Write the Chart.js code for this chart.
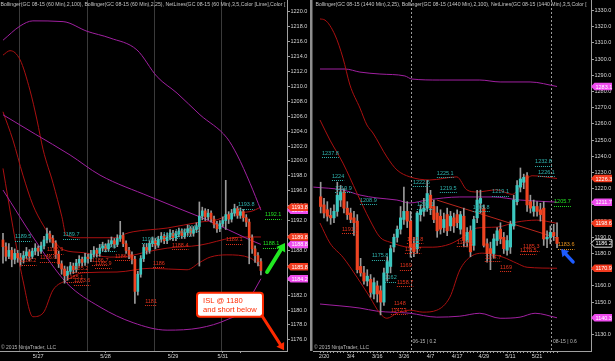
<!DOCTYPE html>
<html>
<head>
<meta charset="utf-8">
<script src="https://cdn.jsdelivr.net/npm/chart.js@4.4.1/dist/chart.umd.min.js"></script>
<style>
  html, body { margin:0; padding:0; background:#000; width:615px; height:361px; overflow:hidden; }
  canvas { position:absolute; top:0; display:block; }
  #cl { left:0; }
  #cr { left:310px; }
</style>
</head>
<body>
<canvas id="cl" width="310" height="361"></canvas>
<canvas id="cr" width="305" height="361"></canvas>
<script>
const FONT = '"Liberation Sans", Arial, sans-serif';
Chart.defaults.font.family = FONT;

/* ================= LEFT PANEL : GC 08-15 (60 Min) ================= */
const lTickIdx    = [12, 35, 58, 75, 81];
const lTickLabels = ['5/27', '5/28', '5/29', '5/31', ''];
const lSessionBreaks = [5.5, 28.5, 51.5, 74.5];
const lYTicks = [1176,1178,1180,1182,1184,1186,1188,1190,1192,1194,1196,1198,1200,1202,1204,1206,1208,1210,1212,1214,1216,1218,1220];

const lOpen = [1189.4,1188.5,1187.2,1188.0,1186.8,1187.6,1187.0,1186.8,1187.3,1187.8,
1187.2,1187.9,1188.3,1187.9,1188.6,1189.4,1190.2,1189.6,1189.0,1187.5,
1186.2,1185.5,1184.6,1185.2,1185.9,1185.4,1186.3,1186.8,1186.4,1187.1,
1186.9,1187.5,1188.0,1187.6,1188.3,1188.6,1188.2,1188.9,1189.3,1188.8,
1189.6,1190.0,1188.9,1188.0,1187.4,1186.8,1182.5,1184.8,1186.9,1188.4,
1188.0,1188.9,1189.3,1188.7,1189.5,1189.9,1189.3,1189.8,1190.3,1189.7,
1190.2,1190.6,1190.0,1190.4,1190.9,1190.3,1190.8,1191.2,1192.6,1193.3,
1192.5,1193.0,1192.2,1191.5,1190.9,1191.6,1192.0,1192.8,1192.2,1193.0,
1193.6,1192.7,1193.2,1192.4,1191.8,1189.7,1188.2,1187.3,1186.5];
const lHigh = [1190.3,1189.0,1188.9,1188.4,1188.2,1188.0,1187.6,1187.9,1188.4,1188.1,
1188.3,1188.9,1188.6,1189.1,1189.9,1191.0,1190.6,1190.0,1189.3,1187.9,
1186.6,1185.9,1185.8,1186.4,1186.3,1186.8,1187.3,1187.1,1187.6,1187.5,
1188.0,1188.5,1188.3,1188.8,1189.1,1188.9,1189.4,1189.8,1189.6,1190.1,
1191.9,1190.4,1189.3,1188.4,1187.8,1187.2,1185.2,1187.3,1188.8,1188.9,
1189.3,1189.8,1189.6,1189.9,1190.4,1190.2,1190.3,1190.8,1190.7,1190.6,
1191.0,1190.9,1190.9,1191.4,1191.2,1191.2,1191.7,1194.5,1193.8,1193.6,
1193.5,1193.3,1192.6,1191.9,1192.0,1192.5,1197.4,1193.2,1193.5,1194.2,
1193.9,1193.7,1193.5,1192.8,1192.2,1190.1,1188.6,1187.7,1186.9];
const lLow = [1186.3,1186.6,1186.9,1185.8,1186.2,1186.4,1185.9,1186.3,1186.9,1186.6,
1186.9,1187.4,1187.3,1187.6,1188.2,1189.0,1189.1,1188.4,1186.9,1185.7,
1184.8,1183.6,1184.0,1184.8,1184.9,1185.0,1185.9,1185.9,1186.0,1186.3,
1186.5,1187.1,1187.1,1187.2,1187.9,1187.8,1187.9,1188.5,1188.3,1188.5,
1189.2,1188.5,1187.6,1186.9,1186.2,1180.9,1182.0,1184.4,1186.5,1187.5,
1187.6,1188.5,1188.2,1188.4,1189.1,1188.9,1188.9,1189.4,1189.3,1189.3,
1189.8,1189.6,1189.6,1190.0,1189.9,1189.9,1190.4,1185.9,1192.1,1192.0,
1192.1,1191.8,1191.0,1190.4,1190.5,1191.2,1190.8,1191.6,1191.8,1192.6,
1192.3,1192.3,1191.9,1191.2,1186.2,1187.6,1186.4,1185.9,1184.7];
const lClose = [1188.5,1187.2,1188.0,1186.8,1187.6,1187.0,1186.8,1187.3,1187.8,1187.2,
1187.9,1188.3,1187.9,1188.6,1189.4,1190.2,1189.6,1189.0,1187.5,1186.2,
1185.5,1184.6,1185.2,1185.9,1185.4,1186.3,1186.8,1186.4,1187.1,1186.9,
1187.5,1188.0,1187.6,1188.3,1188.6,1188.2,1188.9,1189.3,1188.8,1189.6,
1190.0,1188.9,1188.0,1187.4,1186.8,1182.5,1184.8,1186.9,1188.4,1188.0,
1188.9,1189.3,1188.7,1189.5,1189.9,1189.3,1189.8,1190.3,1189.7,1190.2,
1190.6,1190.0,1190.4,1190.9,1190.3,1190.8,1191.2,1192.6,1193.3,1192.5,
1193.0,1192.2,1191.5,1190.9,1191.6,1192.0,1192.8,1192.2,1193.0,1193.6,
1192.7,1193.2,1192.4,1191.8,1189.7,1188.2,1187.3,1186.5,1185.3];

// Bollinger (2,100) - purple
const lB100UpIdx  = [0,5.8,10.2,20.5,28.7,36.5,45.7,52.6,59.4,67.2,76.4,79.9,84.3,88];
const lB100Up     = [1216.2,1218.1,1218.8,1218.7,1217.4,1216.5,1214.9,1211.3,1209.1,1206.2,1203.1,1200.8,1197.0,1193.4];
const lB100MidIdx = [0,11,22.9,33.1,50.2,61.4,69.6,84.3,88];
const lB100Mid    = [1206.2,1203.6,1200.8,1198.1,1195.2,1193.4,1192.1,1189.4,1188.8];
const lB100LowIdx = [0,10.9,21.8,33.1,44.4,56,67.2,76.4,81.9,85.3,88];
const lB100Low    = [1196.1,1189.4,1183.6,1180.4,1178.3,1177.3,1177.6,1178.7,1180.0,1182.3,1184.2];
// Bollinger (2,25) - dark red
const lB25UpIdx  = [0,2.4,5.8,9.2,11.6,13.7,17.1,20.1,21.5,26.3,38.9,41.6,44.4,56,67.2,73,78.5,84.3,88];
const lB25Up     = [1214.2,1214.8,1213.6,1209.5,1205.5,1201.5,1197.0,1192.5,1190.1,1189.7,1189.7,1190.2,1190.5,1191.0,1191.8,1192.1,1193.0,1193.2,1193.8];
const lB25MidIdx = [0,3.4,6.8,10.2,13.7,17.1,20.5,27.3,36.5,42.3,49.1,56,67.2,78.5,84.3,88];
const lB25Mid    = [1206.6,1202.8,1198.1,1194.1,1191.4,1189.4,1188.1,1187.7,1187.1,1187.2,1187.8,1188.3,1188.7,1189.7,1189.8,1189.8];
const lB25LowIdx = [0,3.4,6.8,10.2,13.7,17.1,21.8,27.3,38.9,50.2,62.8,67.2,70.7,76.4,84.3,88];
const lB25Low    = [1199.0,1191.1,1184.0,1179.1,1179.6,1182.7,1184.0,1185.0,1185.1,1185.6,1185.4,1186.4,1187.1,1187.4,1187.0,1185.8];

// NetLines swing labels
const lHiText = ['1189.5','1189.7','1189.6','1190.3','1190.4','1190.6','1192','1193.8'];
const lHiIdx  = [4.1,20.5,33.1,47.4,54.6,58.7,63.1,80.2];
const lHiPos  = [1189.8,1190.1,1188.5,1189.5,1190.2,1190.5,1191.1,1194.1];
const lLoText = ['1188.2','1186.6','1186.9','1185.1','1185.2','1183.6','1186.7','1185.9','1186.4','1181','1186','1188.4','1189.1'];
const lLoIdx  = [5.8,12.6,15,21.8,23.5,24.2,30.4,31.4,38.2,48.5,51.2,57.7,76.1];
const lLoPos  = [1186.6,1187.0,1188.1,1184.3,1185.6,1183.9,1186.6,1186.2,1187.2,1181.2,1186.3,1188.7,1189.4];
const lLimeText = ['1192.1','1188.1'];
const lLimeIdx  = [89.4,88.7];
const lLimePos  = [1192.8,1188.9];

const lTagRed     = [1193.8, 1189.8, 1185.8];
const lTagMagenta = [1193.4, 1188.8, 1184.2];
const lNoteLines  = ['ISL @ 1180', 'and short below'];

/* ================= RIGHT PANEL : GC 08-15 (1440 Min) ================= */
const rDates = ['2/19','2/20','2/23','2/24','2/25','2/26','2/27','3/2','3/3','3/4','3/5','3/6','3/9','3/10','3/11','3/12','3/13','3/16','3/17','3/18','3/19','3/20','3/23','3/24','3/25','3/26','3/27','3/30','3/31','4/1','4/2','4/3','4/6','4/7','4/8','4/9','4/10','4/13','4/14','4/15','4/16','4/17','4/20','4/21','4/22','4/23','4/24','4/27','4/28','4/29','4/30','5/1','5/4','5/5','5/6','5/7','5/8','5/11','5/12','5/13','5/14','5/15','5/18','5/19','5/20','5/21','5/22','5/26','5/27','5/28','5/29','6/1'];
const rLabelEvery = 8;
const rYTicks = [1130,1140,1150,1160,1170,1180,1190,1200,1210,1220,1230,1240,1250,1260,1270,1280,1290,1300,1310,1320,1330];

const rOpen = [1215,1210,1207,1203.5,1202,1206,1213,1218,1208,1205,
1202,1200,1172,1168,1163,1164,1155,1160,1157,1150,
1168,1172,1184,1190,1195,1201,1206,1200,1186,1183,
1204,1206,1208,1216,1209,1205,1203,1196,1204,1197,
1202,1204,1195,1203,1187,1194,1185,1202,1211,1208,
1186,1183,1180,1188,1195,1190,1182,1184,1197,1212,
1221,1224,1228,1212,1206,1209,1207,1208,1189,1190,
1193,1190];
const rHigh = [1224,1214,1212,1208,1210,1224,1222,1220,1212,1208,
1206,1204,1177,1172,1170,1167,1165,1163,1160,1171,
1178,1185,1192,1197,1209,1221,1212,1206,1190,1206,
1210,1214,1225.1,1219,1213,1209,1207,1205,1208,1206,
1205,1207,1206,1208,1196,1197,1203,1219,1219.1,1210,
1189,1187,1192,1196,1199,1193,1191,1200,1216,1225,
1232.8,1229,1230,1216,1213,1212,1211,1212,1194,1197,
1198,1199];
const rLow = [1205,1202,1200,1198,1199,1203,1209,1205,1201,1199,
1191.1,1168,1166,1161,1160,1153,1152,1150,1142.1,1148,
1163,1168,1181,1187,1192,1198,1196,1177.7,1178,1180,
1200,1203,1206,1204,1199,1190,1192,1193,1191,1194,
1193,1196,1192,1184.1,1184,1178,1182,1199,1205,1184,
1174.7,1170,1177,1185,1186,1180,1179,1180,1195,1210,
1218,1220,1206,1205,1203,1203,1200,1185,1183.6,1186,
1188,1183.6];
const rClose = [1209,1205,1203,1202,1206,1216,1218,1208,1204,1201,
1199,1170,1168,1163,1166,1156,1162,1155,1150,1168,
1175,1183,1190,1195,1202,1206,1200,1184,1181,1205,
1207,1208,1217,1208,1201,1194,1195,1201,1194,1203,
1197,1199,1204,1188,1193,1181,1201,1213,1214,1185,
1180,1180,1189,1194,1189,1183,1188,1198,1213,1222,
1226,1227,1210,1208,1209,1206,1204,1189,1190,1193,
1191,1186.2];

// Bollinger (2,25) - dark red
const rB25UpIdx  = [-1.2,0.3,3.3,5.7,7.8,10.8,12.9,14.7,18.9,21.9,25.8,31.8,39.9,42.9,45.9,51.9,56.5,59.5,62.5,70];
const rB25Up     = [1324.8,1324.1,1314.9,1300.7,1284.0,1269.8,1259.3,1254.4,1239.6,1231.6,1227.3,1225.4,1227.3,1219.3,1218.0,1219.3,1216.5,1222.5,1228.0,1226.3];
const rB25MidIdx = [-1.2,1.8,5.7,9.9,13.8,16.8,19.8,25.8,32.7,37.8,41.7,45.9,51.9,57.9,63.9,70];
const rB25Mid    = [1262.4,1250.0,1235.8,1217.3,1200.6,1190.1,1187.0,1183.9,1183.9,1185.8,1190.1,1195.7,1196.3,1199.4,1200.6,1198.6];
const rB25LowIdx = [-1.2,1.8,5.7,9.9,13.8,16.8,18.9,21.9,25.8,29.7,33.9,37.8,40.8,43.8,47.7,53.8,57.9,61.0,70];
const rB25Low    = [1198.8,1186.4,1177.7,1165.4,1153.0,1143.1,1140.0,1143.1,1145.0,1143.8,1145.0,1153.0,1169.8,1177.7,1180.2,1177.7,1174.0,1171.5,1170.9];
// Bollinger (2,100) - purple
const rB100UpIdx  = [-1.2,6.3,10.8,16.8,24.3,26.4,34.8,46.8,52.9,61.9,70];
const rB100Up     = [1293.9,1293.9,1292.0,1290.8,1289.6,1287.7,1287.1,1287.1,1285.9,1285.9,1283.1];
const rB100MidIdx = [-3.2,5.7,10.8,15.9,21.9,25.8,30.9,40.8,50.8,58.9,70];
const rB100Mid    = [1221.0,1219.2,1216.1,1214.3,1213.0,1211.2,1213.0,1214.9,1214.9,1213.0,1211.7];
const rB100LowIdx = [-1.2,10.8,15.9,25.8,33.9,40.8,46.8,52.9,58.9,63.4,70];
const rB100Low    = [1148.8,1146.3,1144.4,1143.1,1140.7,1141.3,1143.1,1140.0,1140.7,1143.1,1140.3];
// hand-drawn trend line
const rTrendIdx = [33.9, 70];
const rTrend    = [1213.0, 1189.6];

const rHiText = ['1237.8','1224','1219.9','1208.9','1222.6','1208.1','1225.1','1219.5','1205.8','1219.1','1232.8','1226.1','1175.8','1162'];
const rHiIdx  = [-0.6,2.4,3.3,10.8,26.7,27.9,33.9,34.8,44.7,50.5,63.4,64.3,14.4,18.3];
const rHiPos  = [1242.0,1227.8,1220.4,1213.0,1224.1,1210.0,1229.7,1220.4,1208.7,1218.0,1236.5,1230.3,1178.5,1165.0];
const rLoText = ['1191.1','1169','1158.7','1148','1142.1','1181.8','1177.7','1184.1','1174.7','1169','1185.3','1179.5'];
const rLoIdx  = [5.4,22.8,21.9,21.0,20.1,24.9,24.3,39.9,48.3,52.9,59.8,58.9];
const rLoPos  = [1195.1,1172.3,1162.4,1148.9,1145.1,1188.9,1182.7,1187.1,1177.8,1171.6,1184.3,1181.9];
const rLimeText = ['1205.7']; const rLimeIdx = [69.1]; const rLimePos = [1211.8];
const rOrangeText = ['1183.6']; const rOrangeIdx = [70.3]; const rOrangePos = [1185.5];

const rTagRed     = [1226.3, 1198.6, 1170.9];
const rTagMagenta = [1283.1, 1211.7, 1140.3];
const rLastPrice  = 1186.2;
const rRollIdx  = [26, 68.2];
const rRollText = ['06-15 | 0.2', '08-15 | 0.6'];

/* ================= styles ================= */
const UP = '#3cc8c0', DOWN = '#ee4422', WICK = '#9a9a9a';
const RED_BAND = '#aa1010', PURPLE_BAND = '#a020a0';
const AXIS = '#a0a0a0', TICKTXT = '#d6d6d6';
const NET_CYAN = '#2fb3ae', NET_RED = '#e2321c', NET_LIME = '#22e022', NET_ORANGE = '#e8921c';
const TAG_RED = '#f23a1e', TAG_MAG = '#ee4cee';

/* ================= helpers ================= */
function candleSets(O, H, L, C, xOf, bodyW) {
  return [
    { type:'bar', order:0, grouped:false, barThickness:bodyW, minBarLength:1,
      data: O.map((o,i)=>({x:xOf(i), y:[o, C[i]]})),
      backgroundColor: c => (C[c.dataIndex] >= O[c.dataIndex] ? UP : DOWN) },
    { type:'bar', order:1, grouped:false, barThickness:1,
      data: H.map((h,i)=>({x:xOf(i), y:[L[i], h]})), backgroundColor: WICK }
  ];
}
function line(idx, vals, color) {
  return { type:'line', order:2, data: idx.map((x,k)=>({x, y:vals[k]})), borderColor:color,
    borderWidth:1, pointRadius:0, cubicInterpolationMode:'monotone', fill:false };
}
function clip(ctx, ca) { ctx.beginPath(); ctx.rect(ca.left, ca.top, ca.right-ca.left, ca.bottom-ca.top); ctx.clip(); }
function netLabels(chart, texts, idxs, pos, color) {
  const {ctx, scales:{x, y}} = chart;
  ctx.save(); clip(ctx, chart.chartArea);
  ctx.font = '5.5px ' + FONT; ctx.fillStyle = color; ctx.strokeStyle = color;
  ctx.textBaseline = 'middle'; ctx.textAlign = 'left'; ctx.lineWidth = 1; ctx.setLineDash([1,1]);
  texts.forEach((t,k) => {
    const px = x.getPixelForValue(idxs[k]), py = y.getPixelForValue(pos[k]);
    ctx.fillText(t, px, py);
    const w = ctx.measureText(t).width, ly = Math.round(py + 4) + 0.5;
    ctx.beginPath(); ctx.moveTo(px, ly); ctx.lineTo(px + w, ly); ctx.stroke();
  });
  ctx.restore();
}
function tag(ctx, x, y, text, fill, border, color) {
  const w = 21, h = 7.5;
  ctx.save();
  ctx.beginPath();
  ctx.moveTo(x, y); ctx.lineTo(x+3.5, y-h/2); ctx.lineTo(x+w, y-h/2); ctx.lineTo(x+w, y+h/2); ctx.lineTo(x+3.5, y+h/2); ctx.closePath();
  ctx.fillStyle = fill; ctx.fill();
  if (border) { ctx.strokeStyle = border; ctx.lineWidth = 1; ctx.stroke(); }
  ctx.fillStyle = color; ctx.font = '5.5px ' + FONT; ctx.textBaseline = 'middle'; ctx.textAlign = 'left';
  ctx.fillText(text, x + 4.5, y + 0.5);
  ctx.restore();
}
function arrow(ctx, x1, y1, x2, y2, color, w, head) {
  const a = Math.atan2(y2-y1, x2-x1);
  const bx = x2 - head*Math.cos(a), by = y2 - head*Math.sin(a);
  ctx.save();
  ctx.strokeStyle = color; ctx.fillStyle = color; ctx.lineWidth = w; ctx.lineCap = 'round';
  ctx.beginPath(); ctx.moveTo(x1, y1); ctx.lineTo(bx, by); ctx.stroke();
  const s = head*0.65;
  ctx.beginPath(); ctx.moveTo(x2, y2);
  ctx.lineTo(bx + s*Math.sin(a), by - s*Math.cos(a));
  ctx.lineTo(bx - s*Math.sin(a), by + s*Math.cos(a)); ctx.closePath(); ctx.fill();
  ctx.restore();
}
function fitFont(ctx, text, targetW) {
  ctx.font = '10px ' + FONT;
  return 10 * targetW / ctx.measureText(text).width;
}
function header(ctx, text, x, targetW) {
  ctx.save();
  const s = fitFont(ctx, text, targetW);
  ctx.font = s.toFixed(2) + 'px ' + FONT; ctx.fillStyle = '#c4c4c4'; ctx.textBaseline = 'middle'; ctx.textAlign = 'left';
  ctx.fillText(text, x, 4.6);
  ctx.restore();
}
function copyright(ctx, x) {
  ctx.save(); ctx.font = '5px ' + FONT; ctx.fillStyle = '#b8b8b8'; ctx.textBaseline = 'middle';
  ctx.fillText('\u00A9 2015 NinjaTrader, LLC', x, 347.5); ctx.restore();
}
function yAxis(min, max, ticks, width) {
  return { position:'right', min, max, bounds:'data',
    afterBuildTicks: s => { s.ticks = ticks.map(v => ({value:v})); },
    ticks: { color:TICKTXT, font:{size:5.5}, padding:0.5, callback: v => Number(v).toFixed(1) },
    grid: { drawOnChartArea:false, drawTicks:true, tickLength:3, color:AXIS },
    border: { display:true, color:AXIS },
    afterFit: s => { s.width = width; s.paddingTop = 0; s.paddingBottom = 0; } };
}
function xAxis(min, max, tickVals, labelFn) {
  return { type:'linear', min, max, bounds:'data', offset:false,
    afterBuildTicks: s => { s.ticks = tickVals.map(v => ({value:v})); },
    ticks: { autoSkip:false, maxRotation:0, minRotation:0, color:TICKTXT, font:{size:5.5}, padding:0, callback: (v,i) => labelFn(i) },
    grid: { drawOnChartArea:false, drawTicks:true, tickLength:2, color:AXIS, offset:false },
    border: { display:true, color:AXIS },
    afterFit: s => { s.height = 10; s.paddingLeft = 0; s.paddingRight = 0; } };
}
const baseOpts = { responsive:false, maintainAspectRatio:false, animation:false, devicePixelRatio:1, events:[],
  plugins:{ legend:{display:false}, tooltip:{enabled:false} } };

/* ================= left chart ================= */
const leftDeco = {
  id:'leftDeco',
  beforeDatasetsDraw(chart) {
    const {ctx, chartArea:ca, scales:{x}} = chart;
    ctx.save(); ctx.strokeStyle = '#3a3a3a'; ctx.lineWidth = 1;
    lSessionBreaks.forEach(b => { const px = Math.round(x.getPixelForValue(b)) + 0.5;
      ctx.beginPath(); ctx.moveTo(px, ca.top); ctx.lineTo(px, ca.bottom); ctx.stroke(); });
    ctx.restore();
  },
  afterDatasetsDraw(chart) {
    netLabels(chart, lHiText, lHiIdx, lHiPos, NET_CYAN);
    netLabels(chart, lLoText, lLoIdx, lLoPos, NET_RED);
    netLabels(chart, lLimeText, lLimeIdx, lLimePos, NET_LIME);
  },
  afterDraw(chart) {
    const {ctx, chartArea:ca, scales:{x, y}} = chart;
    lTagMagenta.forEach(v => tag(ctx, ca.right, y.getPixelForValue(v), v.toFixed(1), TAG_MAG, null, '#fff'));
    lTagRed.forEach(v => tag(ctx, ca.right, y.getPixelForValue(v), v.toFixed(1), TAG_RED, null, '#fff'));
    header(ctx, 'Bollinger(GC 08-15 (60 Min),2,100), Bollinger(GC 08-15 (60 Min),2,25), NetLines(GC 08-15 (60 Min),3,5,Color [Lime],Color [', 0.5, 285);
    copyright(ctx, 1);
    const bx1 = x.getPixelForValue(66.2), bx2 = x.getPixelForValue(88.7);
    const by1 = y.getPixelForValue(1182.3), by2 = y.getPixelForValue(1179.1);
    ctx.save();
    ctx.beginPath(); ctx.roundRect(bx1, by1, bx2-bx1, by2-by1, 3);
    ctx.fillStyle = '#ffffff'; ctx.fill(); ctx.strokeStyle = '#ff2a00'; ctx.lineWidth = 2; ctx.stroke();
    ctx.fillStyle = '#ff2a00'; ctx.font = '7.6px ' + FONT; ctx.textBaseline = 'middle'; ctx.textAlign = 'left';
    ctx.fillText(lNoteLines[0], bx1 + 6, by1 + 7.8);
    ctx.fillText(lNoteLines[1], bx1 + 6, by1 + 17);
    ctx.restore();
    arrow(ctx, x.getPixelForValue(88.4), y.getPixelForValue(1179.2), x.getPixelForValue(95.9), y.getPixelForValue(1174.6), '#ff2a00', 3, 7);
    arrow(ctx, x.getPixelForValue(90.1), y.getPixelForValue(1185.1), x.getPixelForValue(96.2), y.getPixelForValue(1189.0), '#22e822', 4, 8);
  }
};

new Chart(document.getElementById('cl'), {
  type:'bar',
  data:{ datasets:[
    ...candleSets(lOpen, lHigh, lLow, lClose, i => i, 2),
    line(lB100UpIdx, lB100Up, PURPLE_BAND), line(lB100MidIdx, lB100Mid, PURPLE_BAND), line(lB100LowIdx, lB100Low, PURPLE_BAND),
    line(lB25UpIdx, lB25Up, RED_BAND), line(lB25MidIdx, lB25Mid, RED_BAND), line(lB25LowIdx, lB25Low, RED_BAND)
  ]},
  options:{ ...baseOpts, layout:{padding:0},
    scales:{ x: xAxis(-1.02, 96.9, lTickIdx, i => lTickLabels[i]), y: yAxis(1174.5, 1221.6, lYTicks, 23) } },
  plugins:[leftDeco]
});

/* ================= right chart ================= */
const rTickVals = rDates.map((d,i) => i - 1);
const rightDeco = {
  id:'rightDeco',
  beforeDatasetsDraw(chart) {
    const {ctx, chartArea:ca, scales:{x}} = chart;
    ctx.save(); ctx.strokeStyle = '#9a9a9a'; ctx.lineWidth = 1; ctx.setLineDash([2,2]);
    rRollIdx.forEach(b => { const px = Math.round(x.getPixelForValue(b)) + 0.5;
      ctx.beginPath(); ctx.moveTo(px, ca.top); ctx.lineTo(px, ca.bottom); ctx.stroke(); });
    ctx.restore();
  },
  afterDatasetsDraw(chart) {
    netLabels(chart, rHiText, rHiIdx, rHiPos, NET_CYAN);
    netLabels(chart, rLoText, rLoIdx, rLoPos, NET_RED);
    netLabels(chart, rLimeText, rLimeIdx, rLimePos, NET_LIME);
    netLabels(chart, rOrangeText, rOrangeIdx, rOrangePos, NET_ORANGE);
  },
  afterDraw(chart) {
    const {ctx, chartArea:ca, scales:{x, y}} = chart;
    ctx.save(); ctx.fillStyle = '#8e8e8e'; ctx.fillRect(0, 0, 2.5, ca.bottom); ctx.restore();
    rTagMagenta.forEach(v => tag(ctx, ca.right, y.getPixelForValue(v), v.toFixed(1), TAG_MAG, null, '#fff'));
    rTagRed.forEach(v => tag(ctx, ca.right, y.getPixelForValue(v), v.toFixed(1), TAG_RED, null, '#fff'));
    tag(ctx, ca.right, y.getPixelForValue(rLastPrice), rLastPrice.toFixed(1), '#000', '#e0e0e0', '#fff');
    header(ctx, 'Bollinger(GC 08-15 (1440 Min),2,25), Bollinger(GC 08-15 (1440 Min),2,100), NetLines(GC 08-15 (1440 Min),3,5,Color [', 5.5, 272);
    copyright(ctx, 4);
    ctx.save(); ctx.font = '5px ' + FONT; ctx.fillStyle = '#b8b8b8'; ctx.textBaseline = 'middle';
    rRollIdx.forEach((b,k) => ctx.fillText(rRollText[k], x.getPixelForValue(b) + 2, 341.5));
    ctx.restore();
    arrow(ctx, x.getPixelForValue(74.8), y.getPixelForValue(1174.8), x.getPixelForValue(71.2), y.getPixelForValue(1182.8), '#1e5cff', 3.5, 7);
  }
};

new Chart(document.getElementById('cr'), {
  type:'bar',
  data:{ datasets:[
    ...candleSets(rOpen, rHigh, rLow, rClose, i => i - 1, 2.5),
    line(rB25UpIdx, rB25Up, RED_BAND), line(rB25MidIdx, rB25Mid, RED_BAND), line(rB25LowIdx, rB25Low, RED_BAND),
    line(rB100UpIdx, rB100Up, PURPLE_BAND), line(rB100MidIdx, rB100Mid, PURPLE_BAND), line(rB100LowIdx, rB100Low, PURPLE_BAND),
    line(rTrendIdx, rTrend, '#b8261c')
  ]},
  options:{ ...baseOpts, layout:{padding:{left:3, right:0, top:0, bottom:0}},
    scales:{ x: xAxis(-3.3, 80.2, rTickVals, i => (i - 1) % rLabelEvery === 0 && i >= 1 ? rDates[i] : ''),
             y: yAxis(1119.8, 1336.5, rYTicks, 24) } },
  plugins:[rightDeco]
});
</script>
</body>
</html>
